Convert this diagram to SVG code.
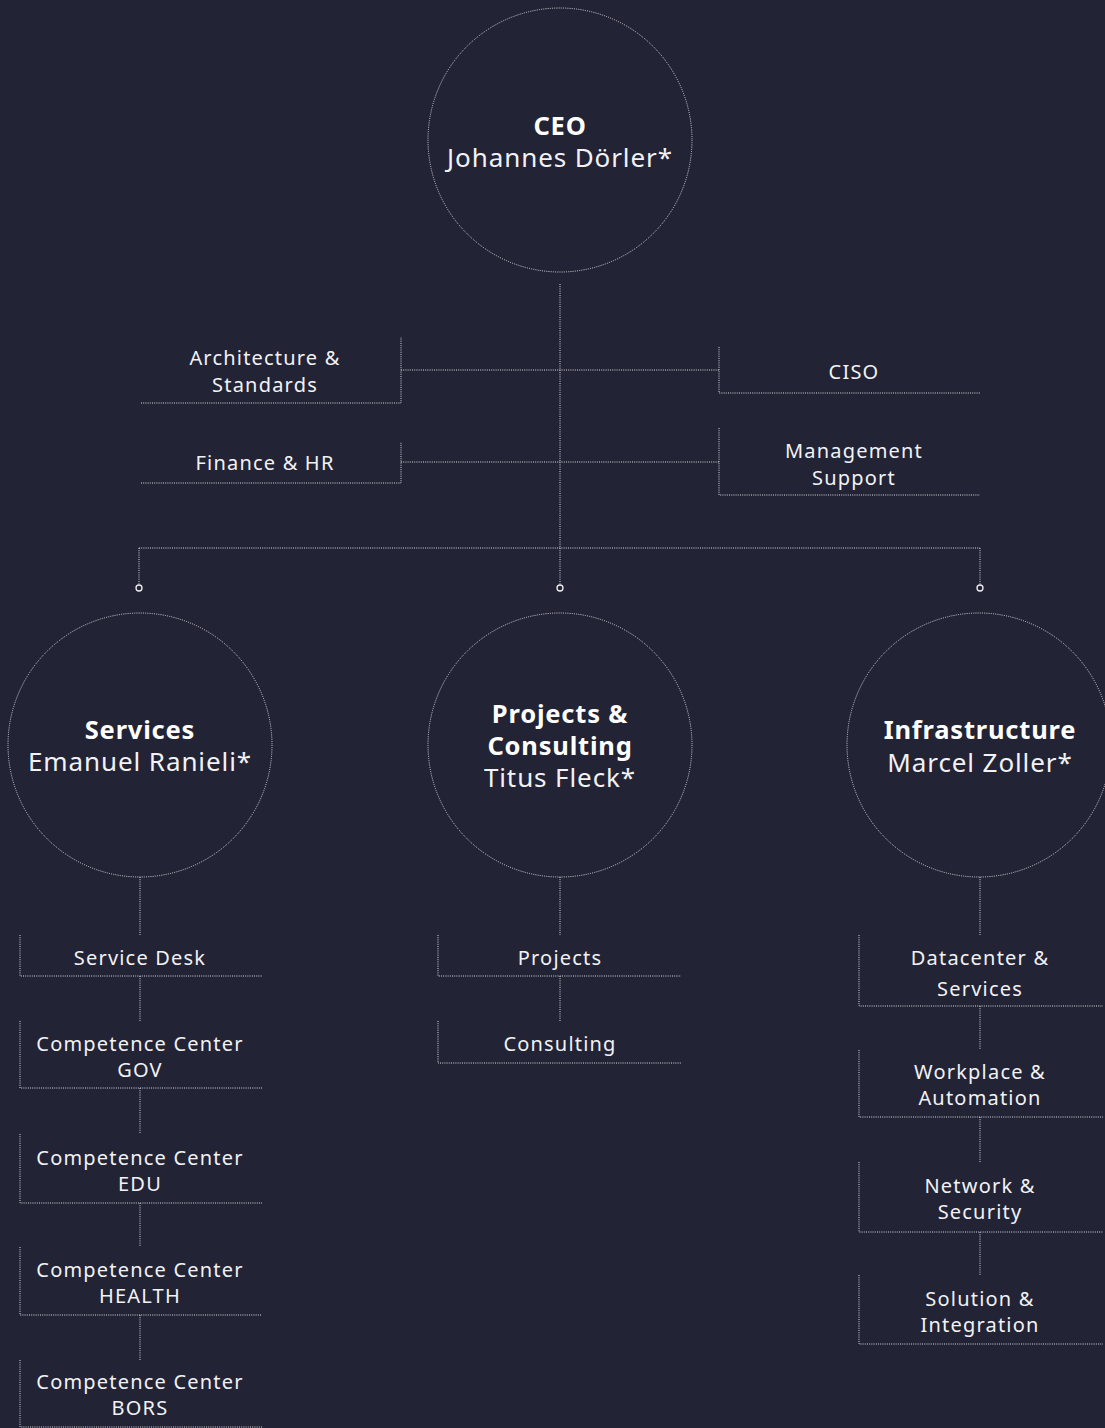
<svg xmlns="http://www.w3.org/2000/svg" width="1105" height="1428" viewBox="0 0 1105 1428">
<style>
  .ln { fill: none; stroke: #dadae2; stroke-width: 1; stroke-dasharray: 1 1.2; }
  .cir { fill: none; stroke: #d6d6de; stroke-width: 1; stroke-dasharray: 1 1.2; }
  .dot { fill: #222334; stroke: #eeeef2; stroke-width: 1.3; }
  .t { font-family: "Noto Sans", "DejaVu Sans", sans-serif; font-size: 20px; fill: #f2f2f5; text-anchor: middle; letter-spacing: 1.2px; }
  .h { font-family: "Noto Sans", "DejaVu Sans", sans-serif; font-size: 25.5px; font-weight: bold; fill: #ffffff; text-anchor: middle; letter-spacing: 0.8px; }
  .n { font-family: "Noto Sans", "DejaVu Sans", sans-serif; font-size: 26px; fill: #f2f2f5; text-anchor: middle; letter-spacing: 0.9px; }
</style>
<rect x="0" y="0" width="1105" height="1428" fill="#222334"/>

<g id="connectors">
  <path class="ln" d="M560 284 V548"/>
  <path class="ln" d="M401 370 H719"/>
  <path class="ln" d="M401 462 H719"/>
  <path class="ln" d="M139 548 H980"/>
  <path class="ln" d="M139 548 V585"/>
  <path class="ln" d="M560 548 V585"/>
  <path class="ln" d="M980 548 V585"/>
  <circle class="dot" cx="139" cy="588" r="3"/>
  <circle class="dot" cx="560" cy="588" r="3"/>
  <circle class="dot" cx="980" cy="588" r="3"/>
  <path class="ln" d="M140 877 V935"/>
  <path class="ln" d="M140 976 V1021"/>
  <path class="ln" d="M140 1088 V1133"/>
  <path class="ln" d="M140 1203 V1247"/>
  <path class="ln" d="M140 1315 V1360"/>
  <path class="ln" d="M560 877 V935"/>
  <path class="ln" d="M560 976 V1021"/>
  <path class="ln" d="M980 877 V935"/>
  <path class="ln" d="M980 1006 V1049"/>
  <path class="ln" d="M980 1117 V1162"/>
  <path class="ln" d="M980 1232 V1275"/>
</g>

<g id="ceo">
  <circle class="cir" cx="560" cy="140" r="132"/>
  <text class="h" x="560" y="135">CEO</text>
  <text class="n" x="560" y="167">Johannes Dörler*</text>
</g>

<g id="architecture">
  <path class="ln" d="M141 403 H401 V337"/>
  <text class="t" x="265" y="365">Architecture &amp;</text>
  <text class="t" x="265" y="392">Standards</text>
</g>
<g id="finance">
  <path class="ln" d="M141 483 H401 V442"/>
  <text class="t" x="265" y="470">Finance &amp; HR</text>
</g>
<g id="ciso">
  <path class="ln" d="M719 347 V393 H980"/>
  <text class="t" x="854" y="379">CISO</text>
</g>
<g id="management">
  <path class="ln" d="M719 428 V495 H980"/>
  <text class="t" x="854" y="458">Management</text>
  <text class="t" x="854" y="485">Support</text>
</g>

<g id="services">
  <circle class="cir" cx="140" cy="745" r="132"/>
  <text class="h" x="140" y="739">Services</text>
  <text class="n" x="140" y="771">Emanuel Ranieli*</text>
</g>
<g id="projects-consulting">
  <circle class="cir" cx="560" cy="745" r="132"/>
  <text class="h" x="560" y="723">Projects &amp;</text>
  <text class="h" x="560" y="755">Consulting</text>
  <text class="n" x="560" y="787">Titus Fleck*</text>
</g>
<g id="infrastructure">
  <circle class="cir" cx="979" cy="745" r="132"/>
  <text class="h" x="980" y="739">Infrastructure</text>
  <text class="n" x="980" y="772">Marcel Zoller*</text>
</g>

<g id="service-desk">
  <path class="ln" d="M20 935 V976 H262"/>
  <text class="t" x="140" y="965">Service Desk</text>
</g>
<g id="cc-gov">
  <path class="ln" d="M20 1021 V1088 H262"/>
  <text class="t" x="140" y="1051">Competence Center</text>
  <text class="t" x="140" y="1077">GOV</text>
</g>
<g id="cc-edu">
  <path class="ln" d="M20 1134 V1203 H262"/>
  <text class="t" x="140" y="1165">Competence Center</text>
  <text class="t" x="140" y="1191">EDU</text>
</g>
<g id="cc-health">
  <path class="ln" d="M20 1247 V1315 H262"/>
  <text class="t" x="140" y="1277">Competence Center</text>
  <text class="t" x="140" y="1303">HEALTH</text>
</g>
<g id="cc-bors">
  <path class="ln" d="M20 1360 V1427 H262"/>
  <text class="t" x="140" y="1389">Competence Center</text>
  <text class="t" x="140" y="1415">BORS</text>
</g>

<g id="projects">
  <path class="ln" d="M438 935 V976 H681"/>
  <text class="t" x="560" y="965">Projects</text>
</g>
<g id="consulting">
  <path class="ln" d="M438 1021 V1063 H681"/>
  <text class="t" x="560" y="1051">Consulting</text>
</g>

<g id="datacenter">
  <path class="ln" d="M859 935 V1006 H1103"/>
  <text class="t" x="980" y="965">Datacenter &amp;</text>
  <text class="t" x="980" y="996">Services</text>
</g>
<g id="workplace">
  <path class="ln" d="M859 1050 V1117 H1103"/>
  <text class="t" x="980" y="1079">Workplace &amp;</text>
  <text class="t" x="980" y="1105">Automation</text>
</g>
<g id="network">
  <path class="ln" d="M859 1162 V1232 H1103"/>
  <text class="t" x="980" y="1193">Network &amp;</text>
  <text class="t" x="980" y="1219">Security</text>
</g>
<g id="solution">
  <path class="ln" d="M859 1275 V1344 H1103"/>
  <text class="t" x="980" y="1306">Solution &amp;</text>
  <text class="t" x="980" y="1332">Integration</text>
</g>
</svg>
